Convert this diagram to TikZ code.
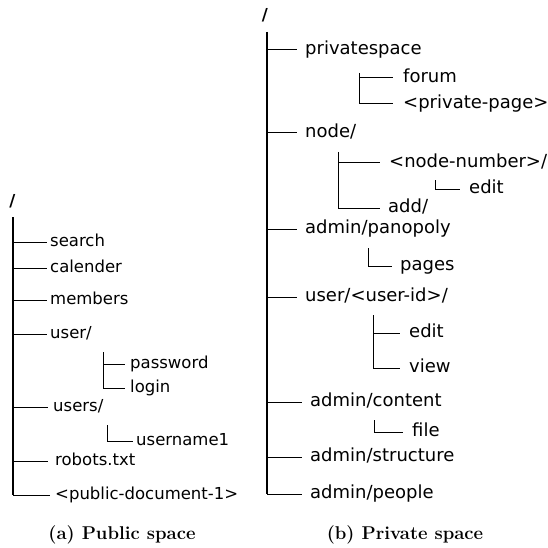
\documentclass[tikz,border=0pt]{standalone}
\usepackage{fontspec}
\newfontfamily\dejavu{DejaVu Sans}
\def\xma{4.5pt}
\def\xmb{4.9pt}
\begin{document}
\begin{tikzpicture}[x=1pt,y=-1pt,
  item/.style={anchor=base west,inner sep=0pt,yshift=-\xma,font=\dejavu\fontsize{16.5}{18}\selectfont},
  itemb/.style={anchor=base west,inner sep=0pt,yshift=-\xmb,font=\dejavu\fontsize{18}{20}\selectfont},
  rootmark/.style={inner sep=0pt,font=\dejavu\bfseries\fontsize{16.5}{18}\selectfont},
  capt/.style={inner sep=0pt,anchor=base,font=\bfseries\fontsize{18.5}{20}\selectfont},
  trunk/.style={line width=2pt},
  branch/.style={line width=1pt}]
\useasboundingbox (0,0) rectangle (548,548);

% ---------------- (a) Public space ----------------
\node[rootmark] (rootA) at (12.5,201) {/};
\coordinate (tA) at (13,217);
\node[item] (search) at (50,242) {search};
\node[item] (calender) at (50,268) {calender};
\node[item] (members) at (50,300) {members};
\node[item] (userA) at (50,334) {user/};
\node[item] (password) at (130,364) {password};
\node[item] (login) at (130,388) {login};
\node[item] (usersA) at (53,407) {users/};
\node[item] (username) at (136,441) {username1};
\node[item] (robots) at (55,461) {robots.txt};
\node[item] (pubdoc) at (55,495) {<public-document-1>};
\foreach \n in {search,calender,members,userA,password,login,usersA,username,robots,pubdoc}
  \coordinate (\n-c) at ([yshift=\xma]\n.base west);

\draw[trunk] (tA) -- (tA |- pubdoc-c);
\foreach \n/\g in {search/3,calender/3,members/3,userA/3,usersA/5,robots/7,pubdoc/5}
  \draw[branch] (tA |- \n-c) -- ([xshift=-\g pt]\n-c);

\coordinate (sA1) at (103,352);
\draw[branch] (sA1) -- (sA1 |- login-c) -- ([xshift=-5pt]login-c);
\draw[branch] (sA1 |- password-c) -- ([xshift=-5pt]password-c);
\coordinate (sA2) at (107,425);
\draw[branch] (sA2) -- (sA2 |- username-c) -- ([xshift=-3pt]username-c);

\node[capt] (capA) at (122,539) {(a) Public space};

% ---------------- (b) Private space ----------------
\node[rootmark] (rootB) at (265,15) {/};
\coordinate (tB) at (267,32);
\node[itemb] (privsp) at (305,50) {privatespace};
\node[itemb] (forum) at (403,78) {forum};
\node[itemb] (privpage) at (403,104) {<private-page>};
\node[itemb] (nodeB) at (305,133) {node/};
\node[itemb] (nodenum) at (389,163) {<node-number>/};
\node[itemb] (editA) at (469,189) {edit};
\node[itemb] (add) at (388,208) {add/};
\node[itemb] (panop) at (305,229) {admin/panopoly};
\node[itemb] (pages) at (400,266) {pages};
\node[itemb] (userid) at (305,297) {user/<user-id>/};
\node[itemb] (editB) at (409,333) {edit};
\node[itemb] (view) at (409,368) {view};
\node[itemb] (content) at (310,402) {admin/content};
\node[itemb] (file) at (412,432) {file};
\node[itemb] (struct) at (310,457) {admin/structure};
\node[itemb] (people) at (310,494) {admin/people};
\foreach \n in {privsp,forum,privpage,nodeB,nodenum,editA,add,panop,pages,userid,editB,view,content,file,struct,people}
  \coordinate (\n-c) at ([yshift=\xmb]\n.base west);

\draw[trunk] (tB) -- (tB |- people-c);
\foreach \n in {privsp,nodeB,panop,userid,content,struct,people}
  \draw[branch] (tB |- \n-c) -- ([xshift=-8pt]\n-c);

\coordinate (sB1) at (359,73);
\draw[branch] (sB1) -- (sB1 |- privpage-c) -- ([xshift=-10pt]privpage-c);
\draw[branch] (sB1 |- forum-c) -- ([xshift=-10pt]forum-c);

\coordinate (sB2) at (338,152);
\draw[branch] (sB2) -- (sB2 |- add-c) -- ([xshift=-8pt]add-c);
\draw[branch] (sB2 |- nodenum-c) -- ([xshift=-9pt]nodenum-c);

\coordinate (sB3) at (435,180);
\draw[branch] (sB3) -- (sB3 |- editA-c) -- ([xshift=-9pt]editA-c);

\coordinate (sB4) at (368,248);
\draw[branch] (sB4) -- (sB4 |- pages-c) -- ([xshift=-8pt]pages-c);

\coordinate (sB5) at (373,315);
\draw[branch] (sB5) -- (sB5 |- view-c) -- ([xshift=-9pt]view-c);
\draw[branch] (sB5 |- editB-c) -- ([xshift=-9pt]editB-c);

\coordinate (sB6) at (374,420);
\draw[branch] (sB6) -- (sB6 |- file-c) -- ([xshift=-9pt]file-c);

\node[capt] (capB) at (405,539) {(b) Private space};
\end{tikzpicture}
\end{document}
